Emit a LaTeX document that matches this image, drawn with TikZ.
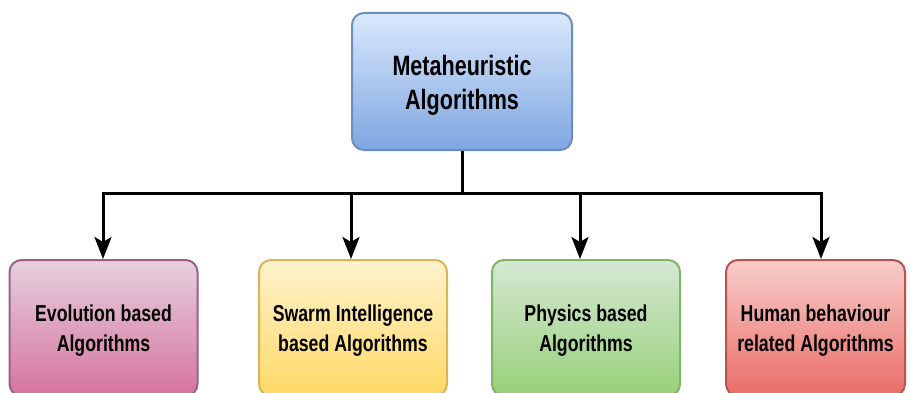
\documentclass[tikz,border=0pt]{standalone}
\usepackage{fontspec}
\usetikzlibrary{arrows.meta}
\newfontfamily\boxfont[FakeStretch=0.77]{Liberation Sans Bold}

\definecolor{blueA}{HTML}{DAE8FC}\definecolor{blueB}{HTML}{7EA6E0}\definecolor{blueS}{HTML}{6C8EBF}
\definecolor{pinkA}{HTML}{E6D0DE}\definecolor{pinkB}{HTML}{D5739D}\definecolor{pinkS}{HTML}{996185}
\definecolor{yelA}{HTML}{FFF2CC}\definecolor{yelB}{HTML}{FFD966}\definecolor{yelS}{HTML}{D6B656}
\definecolor{grnA}{HTML}{D5E8D4}\definecolor{grnB}{HTML}{97D077}\definecolor{grnS}{HTML}{82B366}
\definecolor{redA}{HTML}{F8CECC}\definecolor{redB}{HTML}{EA6B66}\definecolor{redS}{HTML}{B85450}

\begin{document}
\begin{tikzpicture}[x=1pt,y=-1pt,
  box/.style={draw, line width=2pt, rounded corners=12pt, inner sep=0pt},
  rootbox/.style={box, minimum width=220pt, minimum height=137pt},
  leafbox/.style={box, minimum width=188pt, minimum height=136pt},
  roottext/.style={align=center, inner sep=0pt, text=black,
    font=\boxfont\fontsize{28}{34}\selectfont},
  leaftext/.style={align=center, inner sep=0pt, text=black,
    font=\boxfont\fontsize{23}{30}\selectfont},
  wire/.style={line width=3pt, black},
  arrow/.style={wire, -{Stealth[length=22pt,width=17pt,inset=5pt]}}]
\useasboundingbox (0,0) rectangle (917,393);

% root and the four families
\node[rootbox, draw=blueS, top color=blueA, bottom color=blueB] (root) at (462,81.5) {};
\node[leafbox, draw=pinkS, top color=pinkA, bottom color=pinkB] (evo) at (103.5,328) {};
\node[leafbox, draw=yelS, top color=yelA, bottom color=yelB] (swarm) at (353,328) {};
\node[leafbox, draw=grnS, top color=grnA, bottom color=grnB] (phys) at (586,328) {};
\node[leafbox, draw=redS, top color=redA, bottom color=redB, minimum width=179pt] (human) at (815.5,328) {};

\node[roottext] (rootT) at ([yshift=-4pt]root.center) {Metaheuristic\\Algorithms};
\node[leaftext] (evoT) at ([yshift=-3pt]evo.center) {Evolution based\\Algorithms};
\node[leaftext] (swarmT) at ([yshift=-3pt]swarm.center) {Swarm Intelligence\\based Algorithms};
\node[leaftext] (physT) at ([yshift=-3pt]phys.center) {Physics based\\Algorithms};
\node[leaftext] (humanT) at ([yshift=-3pt]human.center) {Human behaviour\\related Algorithms};

% bus line
\coordinate (hub) at (462,193);
\coordinate (b1) at (103,193);
\coordinate (b2) at (351,193);
\coordinate (b3) at (580,193);
\coordinate (b4) at (821,193);

\draw[wire] (root.south) -- (hub);
\draw[wire, line cap=rect] (b1) -- (b4);
\draw[arrow] (b1) -- (b1 |- evo.north);
\draw[arrow] (b2) -- (b2 |- swarm.north);
\draw[arrow] (b3) -- (b3 |- phys.north);
\draw[arrow] (b4) -- (b4 |- human.north);
\end{tikzpicture}
\end{document}
